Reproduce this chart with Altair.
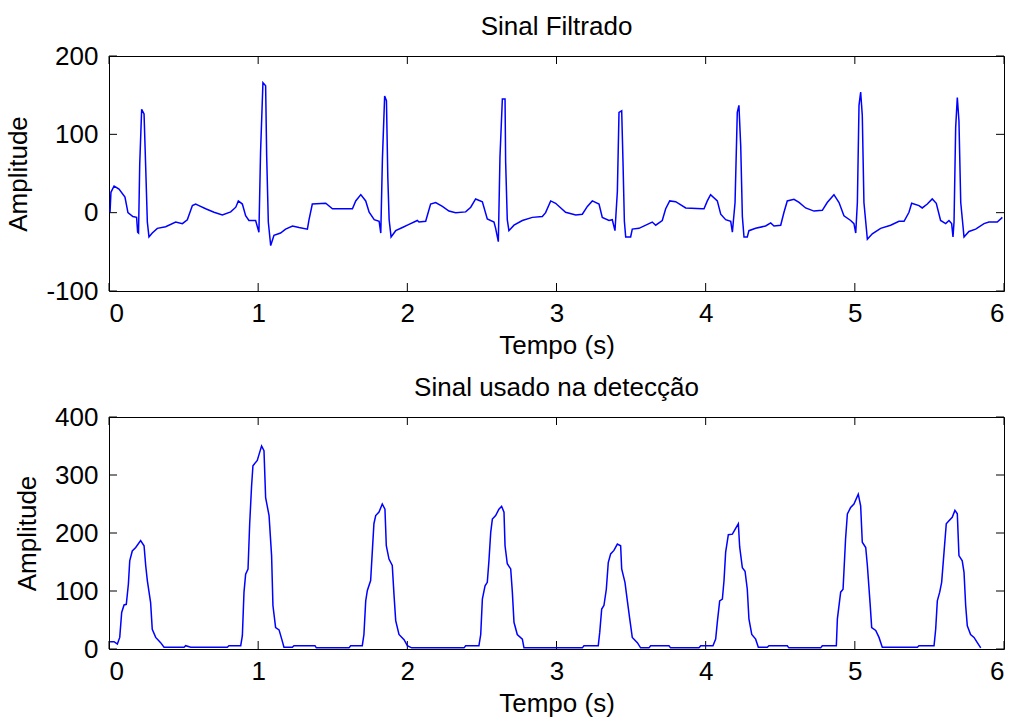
import altair as alt
import pandas as pd

# ---------------- data ----------------
top_t = [0.007, 0.013, 0.034, 0.067, 0.107, 0.127, 0.16, 0.185, 0.192, 0.198, 0.206, 0.219, 0.235, 0.246, 0.257, 0.268,
         0.29, 0.324, 0.38, 0.447, 0.492, 0.525, 0.559, 0.581, 0.603, 0.648, 0.704, 0.76, 0.816, 0.85, 0.867, 0.894,
         0.916, 0.938, 0.983, 1.005, 1.016, 1.032, 1.05, 1.057, 1.068, 1.084, 1.106, 1.15, 1.184, 1.23, 1.274, 1.33,
         1.341, 1.363, 1.453, 1.498, 1.632, 1.654, 1.688, 1.721, 1.744, 1.778, 1.811, 1.822, 1.833, 1.848, 1.86, 1.869,
         1.878, 1.891, 1.922, 1.967, 2.011, 2.067, 2.078, 2.123, 2.156, 2.19, 2.235, 2.279, 2.324, 2.391, 2.425, 2.458,
         2.503, 2.536, 2.581, 2.592, 2.61, 2.621, 2.637, 2.655, 2.659, 2.67, 2.681, 2.715, 2.771, 2.838, 2.905, 2.927,
         2.961, 2.994, 3.061, 3.129, 3.173, 3.207, 3.24, 3.285, 3.307, 3.352, 3.374, 3.392, 3.408, 3.419, 3.437, 3.446,
         3.455, 3.464, 3.497, 3.508, 3.553, 3.62, 3.642, 3.665, 3.709, 3.732, 3.759, 3.799, 3.866, 3.977, 3.989, 4.011,
         4.033, 4.078, 4.101, 4.134, 4.168, 4.179, 4.197, 4.212, 4.223, 4.235, 4.246, 4.257, 4.279, 4.29, 4.335, 4.402,
         4.436, 4.458, 4.503, 4.525, 4.547, 4.592, 4.626, 4.67, 4.726, 4.782, 4.815, 4.86, 4.894, 4.927, 4.972, 4.994,
         5.006, 5.017, 5.028, 5.039, 5.05, 5.061, 5.084, 5.117, 5.173, 5.24, 5.296, 5.33, 5.363, 5.381, 5.43, 5.452,
         5.486, 5.519, 5.546, 5.575, 5.609, 5.631, 5.649, 5.658, 5.665, 5.676, 5.687, 5.698, 5.71, 5.732, 5.765, 5.81,
         5.866, 5.899, 5.955, 5.989]
top_v = [0.5, 26, 34, 30, 20, 0, -5, -6, -25, -26, 62, 132, 126, 58, -12, -31,
         -26, -20, -18, -12, -14, -9, 9, 11, 9, 5, 0.5, -3, 1, 7, 15, 11,
         -4, -10, -10, -25, 77, 166, 162, 73, -12, -42, -29, -26, -21, -17, -19, -21,
         -9, 11, 12, 5, 5, 15, 23, 15, 0.5, -9, -11, -26, 69, 149, 143, 46,
         -9, -31, -23, -19, -15, -10, -12, -11, 11, 13, 8, 2, 0, 1, 7, 17.5,
         14, -8, -12, -20, -37, 71, 145, 145, 65, -9, -23, -16, -10, -6, -5, 0,
         15, 12, 0.5, -3, -2, 8, 15, 11, -6, -10, -9, -23, 27, 128, 130, 63,
         -11, -31, -31, -21, -20, -14, -12, -16, -10, 5, 15, 14, 6, 5, 5, 15,
         23, 15, -2, -9, -11, -25, 13, 128, 137, 85, -5, -31, -31, -23, -20, -17,
         -13, -17, -16, 0.5, 15, 17, 13, 6, 2, 3, 13, 23, 13, -4, -10, -14,
         -26, 13, 137, 154, 124, 13, -34, -27, -20, -16, -11, -11, 0.5, 12, 9, 6,
         11, 17.5, 12, -10, -14, -10, -14, -31, -12, 109, 147, 117, 13, -31, -24, -21,
         -14, -12, -12, -6]

bot_t = [0.007, 0.034, 0.056, 0.072, 0.085, 0.101, 0.116, 0.13, 0.139, 0.156, 0.179, 0.212, 0.235, 0.246, 0.257, 0.279,
         0.29, 0.313, 0.346, 0.369, 0.503, 0.514, 0.548, 0.793, 0.804, 0.883, 0.894, 0.905, 0.916, 0.932, 0.943, 0.956,
         0.965, 0.994, 1.01, 1.023, 1.039, 1.05, 1.073, 1.09, 1.099, 1.117, 1.14, 1.158, 1.173, 1.229, 1.24, 1.381,
         1.39, 1.609, 1.62, 1.698, 1.709, 1.721, 1.732, 1.754, 1.765, 1.776, 1.788, 1.81, 1.832, 1.85, 1.859, 1.877,
         1.899, 1.911, 1.922, 1.944, 1.978, 2.0, 2.029, 2.38, 2.391, 2.48, 2.492, 2.503, 2.521, 2.536, 2.547, 2.559,
         2.57, 2.592, 2.614, 2.632, 2.648, 2.655, 2.67, 2.693, 2.704, 2.715, 2.737, 2.771, 2.782, 3.173, 3.184, 3.28,
         3.29, 3.303, 3.318, 3.334, 3.347, 3.363, 3.385, 3.408, 3.43, 3.437, 3.459, 3.475, 3.491, 3.508, 3.542, 3.564,
         3.62, 3.631, 3.754, 3.765, 3.955, 3.967, 4.049, 4.067, 4.078, 4.094, 4.112, 4.123, 4.134, 4.152, 4.179, 4.201,
         4.219, 4.228, 4.246, 4.264, 4.279, 4.29, 4.309, 4.335, 4.353, 4.413, 4.424, 4.547, 4.558, 4.771, 4.782, 4.876,
         4.883, 4.905, 4.921, 4.938, 4.95, 4.972, 4.994, 5.023, 5.039, 5.05, 5.073, 5.084, 5.102, 5.113, 5.14, 5.162,
         5.184, 5.419, 5.43, 5.531, 5.542, 5.553, 5.569, 5.582, 5.598, 5.613, 5.631, 5.653, 5.671, 5.687, 5.698, 5.72,
         5.732, 5.743, 5.754, 5.776, 5.799, 5.821, 5.844]
bot_v = [12.6, 12.6, 8.6, 20, 63, 76, 77, 112, 152, 169, 175, 187, 178, 144, 118, 80,
         34, 20, 11, 3, 3, 5.7, 3, 3, 5.7, 5.7, 23, 98, 129, 138, 215, 282,
         316, 325, 339, 350, 342, 261, 230, 161, 75, 37, 33, 17, 3, 3, 5.7, 5.7,
         2, 2, 5.7, 5.7, 25, 83, 101, 118, 167, 216, 230, 236, 250, 241, 178, 155,
         144, 92, 49, 25, 16, 5.7, 2, 2, 5.7, 5.7, 25, 86, 109, 115, 152, 201,
         224, 230, 241, 246, 236, 178, 147, 138, 98, 46, 25, 17, 2, 2, 5.7, 5.7,
         29, 69, 75, 103, 149, 164, 170, 181, 178, 138, 115, 83, 52, 20, 11, 2,
         2, 5.7, 5.7, 2, 2, 5.7, 5.7, 17, 46, 83, 86, 118, 167, 197, 198, 208,
         216, 176, 140, 134, 103, 52, 25, 17, 3, 3, 5.7, 5.7, 2, 2, 5.7, 5.7,
         52, 98, 103, 190, 233, 244, 250, 267, 247, 184, 175, 144, 80, 37, 32, 20,
         3, 3, 5.7, 5.7, 34, 83, 98, 115, 167, 216, 221, 227, 239, 233, 161, 152,
         132, 75, 40, 25, 20, 11, 2]

x_ticks = [0, 1, 2, 3, 4, 5, 6]
top_yticks = [-100, 0, 100, 200]
bot_yticks = [0, 100, 200, 300, 400]

titles = ["Sinal Filtrado", "Sinal usado na detecção"]
x_title = "Tempo (s)"
y_title = "Amplitude"

FONT = "Liberation Sans"
W = 895
TICK = 8


def panel(t, v, title, ydomain, yticks, height):
    df = pd.DataFrame({"t": t, "v": v})
    xenc = alt.X("t:Q", scale=alt.Scale(domain=[0, 6], nice=False, zero=False),
                 axis=alt.Axis(values=x_ticks, title=x_title, labelExpr="'' + datum.value", ticks=False,
                               domain=False, grid=False, labelPadding=9, titlePadding=6))
    yenc = alt.Y("v:Q", scale=alt.Scale(domain=ydomain, nice=False, zero=False),
                 axis=alt.Axis(values=yticks, title=y_title, labelExpr="'' + datum.value", ticks=False,
                               domain=False, grid=False, labelPadding=11, titlePadding=14))
    line = alt.Chart(df).mark_line(color="#0000ff", strokeWidth=1.5, clip=True).encode(x=xenc, y=yenc)

    xt = pd.DataFrame({"t": x_ticks})
    yt = pd.DataFrame({"v": yticks})
    tick_style = dict(color="black", strokeWidth=1)
    xt_top = alt.Chart(xt).mark_rule(**tick_style).encode(x=xenc, y=alt.value(0), y2=alt.value(TICK))
    xt_bot = alt.Chart(xt).mark_rule(**tick_style).encode(x=xenc, y=alt.value(height - TICK), y2=alt.value(height))
    yt_left = alt.Chart(yt).mark_rule(**tick_style).encode(y=yenc, x=alt.value(0), x2=alt.value(TICK))
    yt_right = alt.Chart(yt).mark_rule(**tick_style).encode(y=yenc, x=alt.value(W - TICK), x2=alt.value(W))

    return alt.layer(xt_top, xt_bot, yt_left, yt_right, line).properties(
        width=W, height=height,
        title=alt.TitleParams(title, fontSize=26, font=FONT, fontWeight="normal", color="black", offset=3),
    )


top = panel(top_t, top_v, titles[0], [-100, 200], top_yticks, 235)
bot = panel(bot_t, bot_v, titles[1], [0, 400], bot_yticks, 232)

chart = alt.vconcat(top, bot, spacing=15).properties(
    padding={"left": 5, "top": 13, "right": 0, "bottom": 0},
    background="white",
).configure_view(
    stroke="black", strokeWidth=1
).configure_axis(
    labelFont=FONT, labelFontSize=26, labelColor="black",
    titleFont=FONT, titleFontSize=26, titleColor="black", titleFontWeight="normal",
)

chart.save("out.html", embed_options={"renderer": "svg", "actions": False})
